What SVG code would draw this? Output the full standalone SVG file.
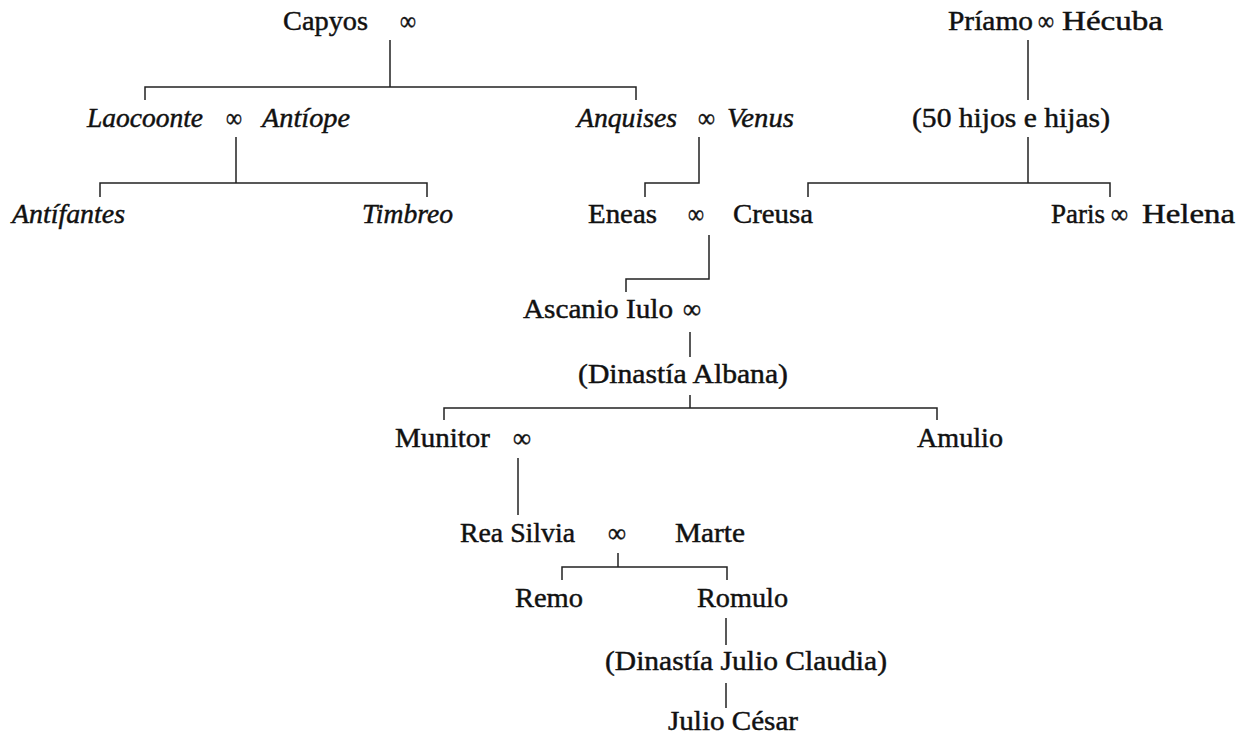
<svg xmlns="http://www.w3.org/2000/svg" width="1246" height="738" viewBox="0 0 1246 738">
<style>
text{font-family:"Liberation Serif","Times New Roman",serif;font-size:27px;fill:#111;stroke:#111;stroke-width:0.45}
.i{font-style:italic}
.c path{fill:none;stroke:#222;stroke-width:1.5}
</style>
<rect width="1246" height="738" fill="#fff"/>
<g class="c" id="connectors">
<path d="M390,40V87M145,100V87H636V100"/>
<path d="M1028,40V100M1028,137V183M808,197V183H1110V197"/>
<path d="M236,137V183M100,197V183H427V197"/>
<path d="M699,137V183H645V197"/>
<path d="M709,235V279H626V292"/>
<path d="M690,332V357"/>
<path d="M690,395V408M444,420V408H937V420"/>
<path d="M518,458V515"/>
<path d="M618,553V567M562,580V567H727V580"/>
<path d="M726,618V645"/>
<path d="M726,683V708"/>
</g>
<g id="capyos"><text x="283" y="30" textLength="85" lengthAdjust="spacingAndGlyphs">Capyos</text><text x="400" y="30" textLength="16" lengthAdjust="spacingAndGlyphs">∞</text></g>
<g id="priamo-hecuba"><text x="948" y="30" textLength="85" lengthAdjust="spacingAndGlyphs">Príamo</text><text x="1038" y="30" textLength="16" lengthAdjust="spacingAndGlyphs">∞</text><text x="1062" y="30" textLength="101" lengthAdjust="spacingAndGlyphs">Hécuba</text></g>
<g id="laocoonte-antiope"><text class="i" x="87" y="127" textLength="116" lengthAdjust="spacingAndGlyphs">Laocoonte</text><text x="226" y="127" textLength="16" lengthAdjust="spacingAndGlyphs">∞</text><text class="i" x="262" y="127" textLength="88" lengthAdjust="spacingAndGlyphs">Antíope</text></g>
<g id="anquises-venus"><text class="i" x="577" y="127" textLength="100" lengthAdjust="spacingAndGlyphs">Anquises</text><text x="698" y="127" textLength="17" lengthAdjust="spacingAndGlyphs">∞</text><text class="i" x="727" y="127" textLength="67" lengthAdjust="spacingAndGlyphs">Venus</text></g>
<g id="hijos"><text x="912" y="127" textLength="198" lengthAdjust="spacingAndGlyphs">(50 hijos e hijas)</text></g>
<g id="antifantes"><text class="i" x="12" y="223" textLength="113" lengthAdjust="spacingAndGlyphs">Antífantes</text></g>
<g id="timbreo"><text class="i" x="362" y="223" textLength="91" lengthAdjust="spacingAndGlyphs">Timbreo</text></g>
<g id="eneas-creusa"><text x="588" y="223" textLength="69" lengthAdjust="spacingAndGlyphs">Eneas</text><text x="688" y="223" textLength="16" lengthAdjust="spacingAndGlyphs">∞</text><text x="733" y="223" textLength="80" lengthAdjust="spacingAndGlyphs">Creusa</text></g>
<g id="paris-helena"><text x="1051" y="223" textLength="54" lengthAdjust="spacingAndGlyphs">Paris</text><text x="1111" y="223" textLength="17" lengthAdjust="spacingAndGlyphs">∞</text><text x="1142" y="223" textLength="93" lengthAdjust="spacingAndGlyphs">Helena</text></g>
<g id="ascanio"><text x="523" y="318" textLength="150" lengthAdjust="spacingAndGlyphs">Ascanio Iulo</text><text x="683" y="318" textLength="18" lengthAdjust="spacingAndGlyphs">∞</text></g>
<g id="albana"><text x="578" y="383" textLength="210" lengthAdjust="spacingAndGlyphs">(Dinastía Albana)</text></g>
<g id="munitor"><text x="395" y="447" textLength="95" lengthAdjust="spacingAndGlyphs">Munitor</text><text x="513" y="447" textLength="18" lengthAdjust="spacingAndGlyphs">∞</text></g>
<g id="amulio"><text x="917" y="447" textLength="86" lengthAdjust="spacingAndGlyphs">Amulio</text></g>
<g id="rea-marte"><text x="460" y="542" textLength="115" lengthAdjust="spacingAndGlyphs">Rea Silvia</text><text x="608" y="542" textLength="18" lengthAdjust="spacingAndGlyphs">∞</text><text x="675" y="542" textLength="70" lengthAdjust="spacingAndGlyphs">Marte</text></g>
<g id="remo"><text x="515" y="607" textLength="68" lengthAdjust="spacingAndGlyphs">Remo</text></g>
<g id="romulo"><text x="697" y="607" textLength="91" lengthAdjust="spacingAndGlyphs">Romulo</text></g>
<g id="claudia"><text x="605" y="670" textLength="282" lengthAdjust="spacingAndGlyphs">(Dinastía Julio Claudia)</text></g>
<g id="cesar"><text x="668" y="730" textLength="130" lengthAdjust="spacingAndGlyphs">Julio César</text></g>
</svg>
